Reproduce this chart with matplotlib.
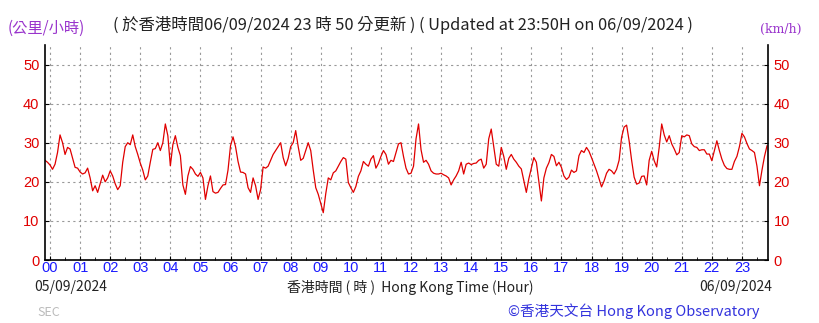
import numpy as np
import matplotlib
matplotlib.use("Agg")
import matplotlib.pyplot as plt
from matplotlib.ticker import MultipleLocator

plt.rcParams['font.family'] = ['Noto Sans CJK TC', 'DejaVu Sans']

# 10-minute mean wind speed (km/h), one value every 5 minutes from 23:50 (05/09) to 23:50 (06/09)
speed_00_04 = [25.5, 25, 24.3, 23.2, 24.5, 27.5, 32, 30, 27, 28.8, 28.4, 26, 23.7, 23.5,
               22.5, 22, 22.3, 23.5, 21, 17.7, 19, 17.3, 19.5, 21.7, 20, 21,
               22.8, 21.5, 19.5, 18, 19, 25, 29, 30, 29.5, 32, 29, 27,
               24.8, 23, 20.5, 21.5, 25, 28.3, 28.5, 30, 28, 30, 34.8, 31.8]
speed_04_08 = [24.1, 29.5, 31.8, 28.8, 26.7, 19.2, 16.8, 21.5, 23.9, 23.2, 22, 21.4,
               22.4, 21, 15.5, 19, 21.5, 17.5, 17.1, 17.3, 18.3, 19.2, 19.3, 23,
               29.2, 31.5, 29, 25.2, 22.5, 22.4, 22, 18.5, 17.3, 21, 19, 15.5,
               18, 23.8, 23.5, 24, 25.5, 27, 28, 29, 30, 26.2, 24.1, 26]
speed_08_12 = [29, 30, 33.1, 29, 25.5, 26, 28, 30, 28, 23, 18.5, 16.8,
               14.5, 12.1, 17, 21, 20.5, 22.3, 22.8, 24, 25.2, 26.2, 25.8, 19.8,
               18.5, 17.3, 18.8, 21.4, 22.8, 25.2, 24.5, 24, 25.8, 26.7, 23.5, 24.7,
               26.5, 28, 27, 24.5, 25.5, 25.2, 27.5, 29.7, 30, 26.5, 23.5, 22]
speed_12_16 = [22.2, 24, 31, 34.8, 28.2, 25, 25.5, 24.5, 22.8, 22.2, 22, 22,
               22.2, 21.8, 21.5, 21, 19.2, 20.5, 21.5, 22.8, 25, 22, 24.5, 24.8,
               24.4, 24.7, 24.8, 25.5, 25.8, 23.5, 24.5, 31, 33.5, 29, 24.5, 24,
               28.8, 26.5, 23.2, 26, 27, 25.8, 25, 24, 23.3, 20.3, 17.3, 20.8]
speed_16_20 = [23.5, 26.2, 25, 20, 15.1, 21, 23.5, 24.9, 27, 26.5, 24.1, 25,
               23.7, 21.5, 20.6, 21.2, 23, 22.4, 22.8, 26.7, 28, 27.5, 28.8, 27.8,
               26.2, 24.5, 22.8, 20.8, 18.7, 20.2, 22.2, 23.2, 22.8, 22, 23.2, 25.5,
               31.4, 34, 34.5, 30.5, 25.5, 21.2, 19.4, 19.7, 21.4, 21.5, 19.2, 25.5]
speed_20_24 = [27.8, 25.4, 23.8, 28.8, 34.8, 32, 30.2, 31.8, 29.7, 28.4, 26.9, 27.5,
               31.8, 31.5, 32, 31.8, 29.7, 29, 28.8, 28, 28.2, 28.2, 27.1, 27.1,
               25.4, 28, 30.5, 28, 25.8, 24.2, 23.4, 23.2, 23.2, 25.2, 26.5, 29,
               32.4, 31.5, 29.8, 28.4, 28, 27.5, 24, 19, 23, 26.5, 29.2]

hour_labels = ["%02d" % h for h in range(24)]
y_ticks = [0, 10, 20, 30, 40, 50]

speed = np.array(speed_00_04 + speed_04_08 + speed_08_12 + speed_12_16 + speed_16_20 + speed_20_24)
minutes = -10 + 5 * np.arange(len(speed))

fig = plt.figure(figsize=(8.19, 3.23), dpi=100)
ax = fig.add_axes([45 / 819, 1 - 260 / 323, 723 / 819, 215 / 323])

ax.plot(minutes, speed, color="#e00000", lw=0.9)

ax.set_xlim(-10, 1432)
ax.set_ylim(0, 55)
ax.set_xticks(np.arange(24) * 60)
ax.set_xticklabels(hour_labels)
ax.xaxis.set_minor_locator(MultipleLocator(30))
ax.set_yticks(y_ticks)
ax.grid(True, color="#999999", linestyle=(0, (2, 3)), linewidth=0.8)
ax.tick_params(axis="x", which="major", direction="in", length=3, pad=1,
               labelcolor="#1a1aff", labelsize=10.5)
ax.tick_params(axis="x", which="minor", direction="in", length=2)
ax.tick_params(axis="y", direction="in", length=3, pad=4, labelcolor="#e00000",
               labelsize=10.5, right=True, labelright=True)
for lab in ax.get_xticklabels() + ax.get_yticklabels():
    lab.set_family(["Liberation Sans", "DejaVu Sans"])
ax.spines["top"].set_visible(False)
for s in ["left", "right", "bottom"]:
    ax.spines[s].set_linewidth(1.2)

fig.text(8 / 819, 1 - 28 / 323, "(公里/小時)", color="#9933cc", fontsize=11, va="center")
fig.text(403 / 819, 1 - 25 / 323,
         "( 於香港時間06/09/2024 23 時 50 分更新 ) ( Updated at 23:50H on 06/09/2024 )",
         color="#222222", fontsize=11.8, ha="center", va="center")
fig.text(781 / 819, 1 - 29 / 323, "(km/h)", color="#9933cc", fontsize=9,
         ha="center", va="center", family="DejaVu Serif")
fig.text(34 / 819, 1 - 287 / 323, "05/09/2024", color="#222222", fontsize=10, va="center")
fig.text(410 / 819, 1 - 287 / 323, "香港時間 ( 時 )  Hong Kong Time (Hour)",
         color="#222222", fontsize=10, ha="center", va="center")
fig.text(772 / 819, 1 - 287 / 323, "06/09/2024", color="#222222", fontsize=10,
         ha="right", va="center")
fig.text(760 / 819, 1 - 311 / 323, "©香港天文台 Hong Kong Observatory", color="#3333dd",
         fontsize=10.5, ha="right", va="center")
fig.text(37 / 819, 1 - 313 / 323, "SEC", color="#bbbbbb", fontsize=9, va="center")

fig.savefig("out.png", dpi=100)
